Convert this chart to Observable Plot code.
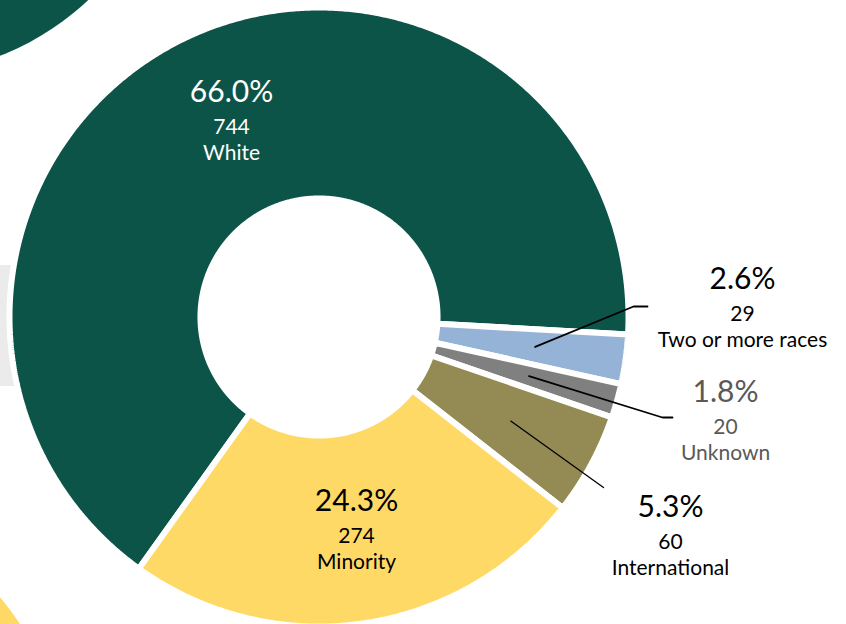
<!DOCTYPE html>
<html><head><meta charset="utf-8">
<script src="https://cdn.jsdelivr.net/npm/d3@7"></script>
<script src="https://cdn.jsdelivr.net/npm/@observablehq/plot@0.6"></script>
<style>html,body{margin:0;padding:0;overflow:hidden;background:#fff}</style>
</head><body><div id="chart"></div>
<script>
// ---- data ----
const categories = ["White", "Two or more races", "Unknown", "International", "Minority"];
const counts = [744, 29, 20, 60, 274];
const percentLabels = ["66.0%", "2.6%", "1.8%", "5.3%", "24.3%"];

// ---- styles ----
const sliceColors = ["#0D5448", "#95B3D7", "#808080", "#948A54", "#FFD966"];
const labelColors = ["#FFFFFF", "#000000", "#595959", "#000000", "#000000"];

// ---- layout (unit coordinates: donut outer radius = 1) ----
const R_OUTER = 1, R_INNER = 0.383, LEADER_R = 0.705;
const START_ANGLE = -144.4 * Math.PI / 180;
const labelAnchor = {
  "White": [-0.2827, 0.6123],
  "Two or more races": [1.3683, 0.0081],
  "Unknown": [1.3134, -0.3538],
  "International": [1.1357, -0.7254],
  "Minority": [0.1212, -0.7092]
};
const leaderBends = {
  "Two or more races": {w: 1.8, pts: [[1.0162, 0.0339], [1.0614, 0.0339]]},
  "Unknown": {w: 1.8, pts: [[1.1099, -0.3247], [1.1422, -0.3247]]},
  "International": {w: 1.3, pts: [[0.9192, -0.5509]]}
};

const rows = categories.map((name, i) => ({name, count: counts[i], pct: percentLabels[i], color: labelColors[i]}));
const arcs = d3.pie().sort(null).value(d => d.count).startAngle(START_ANGLE).endAngle(START_ANGLE + 2 * Math.PI)(rows);

const polar = (r, a) => [r * Math.sin(a), r * Math.cos(a)];
const slicePts = [];
for (const a of arcs) {
  const n = Math.max(8, Math.ceil((a.endAngle - a.startAngle) / (0.4 * Math.PI / 180)));
  for (let k = 0; k <= n; k++) {
    const t = a.startAngle + (a.endAngle - a.startAngle) * k / n;
    const [x, y] = polar(R_OUTER, t);
    slicePts.push({name: a.data.name, x, y});
  }
  for (let k = n; k >= 0; k--) {
    const t = a.startAngle + (a.endAngle - a.startAngle) * k / n;
    const [x, y] = polar(R_INNER, t);
    slicePts.push({name: a.data.name, x, y});
  }
}

const leaderPts = [];
for (const a of arcs) {
  const lb = leaderBends[a.data.name];
  if (!lb) continue;
  const [x0, y0] = polar(LEADER_R, (a.startAngle + a.endAngle) / 2);
  leaderPts.push({name: a.data.name, x: x0, y: y0, w: lb.w});
  for (const [x, y] of lb.pts) leaderPts.push({name: a.data.name, x, y, w: lb.w});
}

const labels = rows.map(d => ({...d, x: labelAnchor[d.name][0], y: labelAnchor[d.name][1]}));

// decorative pieces of neighbouring graphics
const decoGreen = [{x: -1.3522, y: 1.6688}];
const decoYellow = [{x: -1.7399, y: -1.4975}];
const decoBand = [{x1: -1.05, x2: -0.9, y1: 0.1664, y2: -0.2246}];

const W = 846, H = 624, PX = 309.5, CX = 318.5, CY = 316.5;

const chart = Plot.plot({
  width: W, height: H,
  margin: 0,
  style: {fontFamily: "Lato, 'Open Sans', sans-serif", background: "#fff"},
  x: {domain: [-CX / PX, (W - CX) / PX], axis: null},
  y: {domain: [-(H - CY) / PX, CY / PX], axis: null},
  color: {domain: categories, range: sliceColors},
  marks: [
    Plot.dot(decoGreen, {x: "x", y: "y", r: 274, fill: "#0D5448", stroke: null}),
    Plot.dot(decoYellow, {x: "x", y: "y", r: 286, fill: "#FFD966", stroke: null}),
    Plot.rect(decoBand, {x1: "x1", x2: "x2", y1: "y1", y2: "y2", fill: "#EBEBEB"}),
    Plot.line(slicePts, {x: "x", y: "y", z: "name", fill: "name", stroke: "white", strokeWidth: 6, strokeLinejoin: "miter", curve: "linear-closed"}),
    Plot.line(leaderPts, {x: "x", y: "y", z: "name", stroke: "#000", strokeWidth: "w", strokeLinejoin: "miter"}),
    Plot.text(labels, {x: "x", y: "y", text: "pct", fill: "color", fontSize: 30, lineAnchor: "bottom", dy: -25}),
    Plot.text(labels, {x: "x", y: "y", text: d => String(d.count), fill: "color", fontSize: 21, lineAnchor: "bottom", dy: 7}),
    Plot.text(labels, {x: "x", y: "y", text: "name", fill: "color", fontSize: 21, lineAnchor: "bottom", dy: 33})
  ]
});
document.getElementById("chart").appendChild(chart);
</script>
</body></html>
